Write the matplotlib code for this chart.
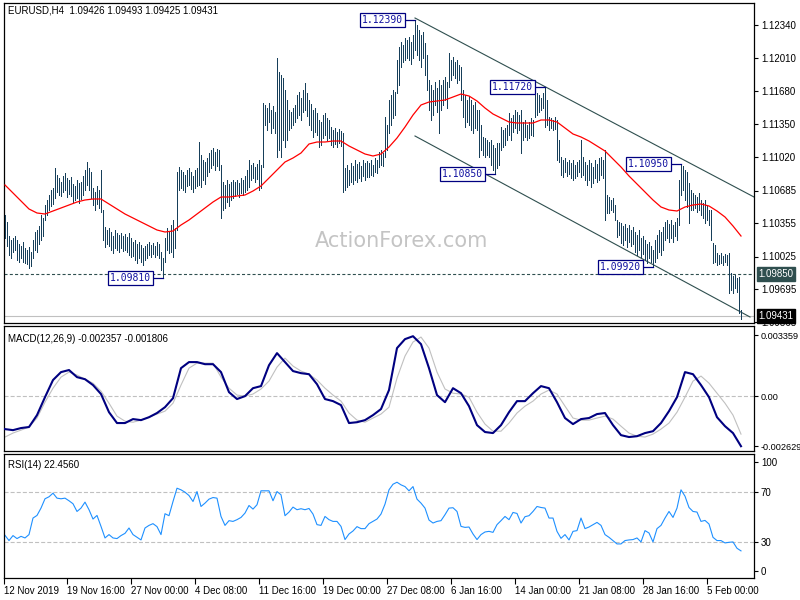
import matplotlib
matplotlib.use('Agg')
import matplotlib.pyplot as plt
import matplotlib.transforms as mtransforms
import numpy as np

plt.rcParams['font.family'] = ['Liberation Sans', 'DejaVu Sans']
plt.rcParams['lines.scale_dashes'] = False

# ---- data (EURUSD H4) ----
highs = [
    1.1044, 1.1037, 1.1023, 1.1019, 1.1021, 1.1023, 1.1019, 1.1015, 1.1013, 1.1017,
    1.1011, 1.1009, 1.1012, 1.1007, 1.1019, 1.1027, 1.1029, 1.1033, 1.1044, 1.1041,
    1.1054, 1.1059, 1.1064, 1.1069, 1.1071, 1.1091, 1.1084, 1.1081, 1.1077, 1.1083,
    1.1086, 1.1081, 1.1079, 1.1082, 1.1075, 1.1073, 1.1079, 1.1076, 1.1077, 1.1083,
    1.1089, 1.1097, 1.1091, 1.1087, 1.1071, 1.1067, 1.1073, 1.1069, 1.1089, 1.1049,
    1.1032, 1.1029, 1.1031, 1.1027, 1.1023, 1.1029, 1.1026, 1.1024, 1.1026, 1.1023,
    1.1025, 1.1022, 1.1026, 1.1021, 1.1017, 1.1019, 1.1015, 1.1017, 1.1014, 1.1011,
    1.1013, 1.1015, 1.1017, 1.1014, 1.1016, 1.1013, 1.1017, 1.1015, 1.1007, 1.1001,
    1.1021, 1.1031, 1.1027, 1.1034, 1.1039, 1.1031, 1.1087, 1.1092, 1.1089, 1.1087,
    1.1084, 1.1089, 1.1091, 1.1087, 1.1083, 1.1089, 1.1091, 1.1117, 1.1104, 1.1099,
    1.1097, 1.1101, 1.1106, 1.1109, 1.1111, 1.1107, 1.1110, 1.1109, 1.1094, 1.1077,
    1.1074, 1.1079, 1.1075, 1.1077, 1.1079, 1.1077, 1.1079, 1.1076, 1.1081, 1.1079,
    1.1083, 1.1089, 1.1099, 1.1094, 1.1096, 1.1092, 1.1095, 1.1099, 1.1094, 1.1156,
    1.1154, 1.1151, 1.1156, 1.1149, 1.1153, 1.1147, 1.1201, 1.1187, 1.1184, 1.1181,
    1.1169, 1.1159, 1.1149, 1.1147, 1.1151, 1.1154, 1.1164, 1.1167, 1.1161, 1.1169,
    1.1176, 1.1166, 1.1159, 1.1155, 1.1149, 1.1151, 1.1146, 1.1139, 1.1137, 1.1144,
    1.1146, 1.1141, 1.1139, 1.1132, 1.1129, 1.1131, 1.1127, 1.1130, 1.1128, 1.1126,
    1.1091, 1.1094, 1.1089, 1.1096, 1.1093, 1.1099, 1.1095, 1.1097, 1.1093, 1.1099,
    1.1096, 1.1098, 1.1096, 1.1099, 1.1094, 1.1101, 1.1099, 1.1107, 1.1109, 1.1106,
    1.1142, 1.1134, 1.1159, 1.1164, 1.1169, 1.1167, 1.1199, 1.1212, 1.1217, 1.1214,
    1.1221, 1.1219, 1.1222, 1.1217, 1.1224, 1.1239, 1.1234, 1.1229, 1.1224, 1.1227,
    1.1216, 1.1204, 1.1179, 1.1174, 1.1169, 1.1177, 1.1171, 1.1179, 1.1174, 1.1179,
    1.1182, 1.1177, 1.1206, 1.1199, 1.1202, 1.1197, 1.1199, 1.1194, 1.1192, 1.1169,
    1.1164, 1.1159, 1.1163, 1.1159, 1.1154, 1.1157, 1.1149, 1.1149, 1.1134, 1.1122,
    1.1121, 1.1119, 1.1117, 1.1119, 1.1114, 1.1111, 1.1116, 1.1116, 1.1132, 1.1129,
    1.1131, 1.1134, 1.1146, 1.1141, 1.1144, 1.1149, 1.1147, 1.1144, 1.1149, 1.1137,
    1.1139, 1.1134, 1.1137, 1.1141, 1.1139, 1.1164, 1.1166, 1.1164, 1.1161, 1.1166,
    1.1172, 1.1159, 1.1142, 1.1141, 1.1139, 1.1142, 1.1139, 1.1119, 1.1102, 1.1099,
    1.1101, 1.1097, 1.1099, 1.1096, 1.1099, 1.1094, 1.1097, 1.1099, 1.1119, 1.1102,
    1.1097, 1.1094, 1.1099, 1.1096, 1.1092, 1.1099, 1.1095, 1.1101, 1.1102, 1.1099,
    1.1109, 1.1064, 1.1062, 1.1059, 1.1061, 1.1054, 1.1039, 1.1037, 1.1036, 1.1033,
    1.1035, 1.1031, 1.1034, 1.1029, 1.1032, 1.1027, 1.1024, 1.1029, 1.1021, 1.1023,
    1.1019, 1.1015, 1.1017, 1.1013, 1.1009, 1.1019, 1.1024, 1.1029, 1.1027, 1.1032,
    1.1037, 1.1039, 1.1035, 1.1039, 1.1034, 1.1037, 1.1041, 1.1079, 1.1095, 1.1093,
    1.1089, 1.1087, 1.1076, 1.1069, 1.1066, 1.1064, 1.1062, 1.1066, 1.1059, 1.1056,
    1.1059, 1.1054, 1.1049, 1.1049, 1.1016, 1.1014, 1.1006, 1.1004, 1.1006, 1.1003,
    1.1005, 1.1004, 1.1006, 1.0986, 1.0983, 1.0984, 1.0981, 1.0982, 1.0949,
]
lows = [
    1.1021, 1.1013, 1.1004, 1.1001, 1.1007, 1.1009, 1.0999, 1.0997, 1.1001, 1.0997,
    1.0996, 1.0995, 1.0991, 1.0993, 1.1001, 1.1009, 1.1007, 1.1015, 1.1019, 1.1023,
    1.1039, 1.1044, 1.1049, 1.1053, 1.1055, 1.1061, 1.1067, 1.1064, 1.1063, 1.1067,
    1.1069, 1.1062, 1.1065, 1.1063, 1.1057, 1.1059, 1.1061, 1.1056, 1.1060, 1.1064,
    1.1069, 1.1074, 1.1069, 1.1061, 1.1054, 1.1049, 1.1055, 1.1051, 1.1047, 1.1019,
    1.1012, 1.1015, 1.1013, 1.1009, 1.1006, 1.1011, 1.1009, 1.1007, 1.1011, 1.1008,
    1.1009, 1.1007, 1.1004, 1.1002, 1.1003, 1.0999, 1.0996, 1.1001, 1.0997, 1.0994,
    1.0999, 1.1001, 1.1004, 1.1002, 1.1005, 1.1002, 1.1004, 1.1001, 1.0989, 1.0981,
    1.0997, 1.1009, 1.1006, 1.1007, 1.1002, 1.1011, 1.1029, 1.1069, 1.1071, 1.1069,
    1.1067, 1.1073, 1.1074, 1.1070, 1.1067, 1.1071, 1.1073, 1.1074, 1.1072, 1.1079,
    1.1075, 1.1083, 1.1087, 1.1091, 1.1094, 1.1089, 1.1093, 1.1089, 1.1041, 1.1049,
    1.1051, 1.1057, 1.1053, 1.1059, 1.1061, 1.1063, 1.1065, 1.1062, 1.1066, 1.1064,
    1.1067, 1.1069, 1.1072, 1.1079, 1.1081, 1.1077, 1.1080, 1.1069, 1.1071, 1.1092,
    1.1134, 1.1129, 1.1137, 1.1126, 1.1131, 1.1126, 1.1102, 1.1109, 1.1102, 1.1119,
    1.1112, 1.1119, 1.1129, 1.1131, 1.1134, 1.1137, 1.1141, 1.1144, 1.1139, 1.1147,
    1.1149, 1.1143, 1.1134, 1.1129, 1.1122, 1.1127, 1.1124, 1.1112, 1.1114, 1.1121,
    1.1124, 1.1119, 1.1121, 1.1114, 1.1112, 1.1115, 1.1112, 1.1116, 1.1113, 1.1067,
    1.1069, 1.1072, 1.1074, 1.1077, 1.1075, 1.1079, 1.1077, 1.1081, 1.1078, 1.1083,
    1.1079, 1.1082, 1.1082, 1.1084, 1.1083, 1.1087, 1.1086, 1.1092, 1.1094, 1.1093,
    1.1102, 1.1109, 1.1126, 1.1134, 1.1141, 1.1144, 1.1166, 1.1174, 1.1192, 1.1197,
    1.1199, 1.1201, 1.1199, 1.1195, 1.1201, 1.1209, 1.1204, 1.1199, 1.1192, 1.1201,
    1.1184, 1.1169, 1.1149, 1.1139, 1.1144, 1.1154, 1.1147, 1.1126, 1.1149, 1.1154,
    1.1159, 1.1151, 1.1172, 1.1179, 1.1184, 1.1181, 1.1176, 1.1179, 1.1159, 1.1142,
    1.1132, 1.1137, 1.1134, 1.1129, 1.1126, 1.1131, 1.1129, 1.1102, 1.1109, 1.1104,
    1.1102, 1.1104, 1.1102, 1.1094, 1.1089, 1.1085, 1.1091, 1.1094, 1.1109, 1.1112,
    1.1114, 1.1119, 1.1124, 1.1119, 1.1127, 1.1131, 1.1126, 1.1129, 1.1106, 1.1119,
    1.1122, 1.1119, 1.1121, 1.1124, 1.1123, 1.1142, 1.1144, 1.1147, 1.1149, 1.1151,
    1.1132, 1.1134, 1.1129, 1.1131, 1.1129, 1.1130, 1.1099, 1.1097, 1.1084, 1.1082,
    1.1087, 1.1083, 1.1085, 1.1081, 1.1079, 1.1081, 1.1083, 1.1087, 1.1082, 1.1084,
    1.1079, 1.1074, 1.1079, 1.1072, 1.1076, 1.1081, 1.1077, 1.1079, 1.1084, 1.1081,
    1.1039, 1.1046, 1.1046, 1.1049, 1.1047, 1.1039, 1.1022, 1.1024, 1.1016, 1.1014,
    1.1019, 1.1012, 1.1017, 1.1013, 1.1015, 1.1007, 1.1004, 1.1009, 1.1002, 1.1005,
    1.0999, 1.0996, 1.1001, 1.0997, 1.0992, 1.0997, 1.1001, 1.1007, 1.1004, 1.1009,
    1.1019, 1.1021, 1.1017, 1.1021, 1.1017, 1.1023, 1.1019, 1.1034, 1.1064, 1.1069,
    1.1059, 1.1052, 1.1036, 1.1049, 1.1049, 1.1051, 1.1047, 1.1049, 1.1044, 1.1041,
    1.1036, 1.1039, 1.1034, 1.1019, 1.0996, 1.0997, 1.0994, 1.0995, 1.0996, 1.0994,
    1.0997, 1.0994, 1.0966, 1.0969, 1.0966, 1.0971, 1.0967, 1.0946, 1.0940,
]

# moving average (red), read every 4th bar
ma = [
    1.1074, 1.1066, 1.1058, 1.1050, 1.1046, 1.1045, 1.1048, 1.1051, 1.1054, 1.1057,
    1.1059, 1.1060, 1.1060, 1.1055, 1.1050, 1.1045, 1.1041, 1.1037, 1.1033, 1.1029,
    1.1027, 1.1028, 1.1034, 1.1039, 1.1045, 1.1051, 1.1057, 1.1062, 1.1062, 1.1063,
    1.1064, 1.1068, 1.1073, 1.1081, 1.1089, 1.1097, 1.1101, 1.1106, 1.1115, 1.1117,
    1.1117, 1.1118, 1.1118, 1.1113, 1.1109, 1.1105, 1.1103, 1.1105, 1.1112, 1.1121,
    1.1132, 1.1144, 1.1154, 1.1157, 1.1158, 1.1159, 1.1162, 1.1165, 1.1163, 1.1158,
    1.1151, 1.1145, 1.1141, 1.1137, 1.1136, 1.1136, 1.1136, 1.1139, 1.1139, 1.1137,
    1.1131, 1.1125, 1.1122, 1.1118, 1.1113, 1.1108, 1.1100, 1.1092, 1.1083, 1.1075,
    1.1067, 1.1059, 1.1052, 1.1049, 1.1048, 1.1052, 1.1054, 1.1055, 1.1053, 1.1048,
    1.1042, 1.1033, 1.1023,
]

# MACD main / signal, read every 4th bar
macd = [
    -0.00158, -0.00163, -0.00153, -0.00148, -0.00091, -0.00005, 0.00077, 0.00115, 0.00125, 0.00091,
    0.00081, 0.00053, 0.00010, -0.00077, -0.00129, -0.00129, -0.00110, -0.00115, -0.00101, -0.00081,
    -0.00053, -0.00010, 0.00134, 0.00163, 0.00163, 0.00153, 0.00153, 0.00115, 0.00019, -0.00014,
    0.00000, 0.00038, 0.00048, 0.00148, 0.00206, 0.00163, 0.00120, 0.00110, 0.00105, 0.00057,
    -0.00014, -0.00024, -0.00043, -0.00129, -0.00125, -0.00115, -0.00091, -0.00062, 0.00029, 0.00230,
    0.00273, 0.00287, 0.00249, 0.00134, 0.00005, -0.00029, 0.00038, 0.00014, -0.00048, -0.00139,
    -0.00172, -0.00177, -0.00139, -0.00077, -0.00024, -0.00024, 0.00014, 0.00048, 0.00038, -0.00029,
    -0.00105, -0.00134, -0.00110, -0.00105, -0.00086, -0.00081, -0.00139, -0.00187, -0.00196, -0.00192,
    -0.00177, -0.00168, -0.00129, -0.00072, -0.00005, 0.00115, 0.00105, 0.00053, -0.00005, -0.00101,
    -0.00144, -0.00177, -0.00240,
]
signal = [
    -0.00196, -0.00177, -0.00163, -0.00148, -0.00105, -0.00029, 0.00038, 0.00091, 0.00115, 0.00101,
    0.00081, 0.00062, 0.00024, -0.00034, -0.00096, -0.00120, -0.00125, -0.00115, -0.00101, -0.00086,
    -0.00072, -0.00034, 0.00053, 0.00134, 0.00158, 0.00158, 0.00158, 0.00091, 0.00038, 0.00005,
    0.00000, 0.00010, 0.00034, 0.00072, 0.00139, 0.00182, 0.00144, 0.00120, 0.00105, 0.00077,
    0.00038, 0.00005, -0.00024, -0.00081, -0.00115, -0.00125, -0.00105, -0.00086, -0.00053, 0.00086,
    0.00192, 0.00259, 0.00283, 0.00230, 0.00115, 0.00034, 0.00014, 0.00010, -0.00005, -0.00077,
    -0.00134, -0.00168, -0.00168, -0.00129, -0.00081, -0.00048, -0.00024, 0.00010, 0.00029, 0.00010,
    -0.00048, -0.00105, -0.00115, -0.00115, -0.00105, -0.00096, -0.00110, -0.00144, -0.00177, -0.00192,
    -0.00196, -0.00182, -0.00158, -0.00129, -0.00077, -0.00005, 0.00072, 0.00096, 0.00062, 0.00014,
    -0.00034, -0.00091, -0.00182,
]

# RSI(14), read every 2nd bar
rsi = [
    35.3, 31.1, 35.1, 32.7, 34.5, 33.2, 35.9, 49.2, 51.3, 57.2,
    64.7, 66.3, 69.2, 65.2, 64.7, 65.2, 63.1, 60.7, 54.5, 57.2,
    62.0, 55.9, 48.4, 51.3, 42.5, 33.2, 35.9, 33.2, 32.7, 35.1,
    36.9, 41.2, 35.9, 33.7, 31.6, 41.2, 43.3, 44.7, 42.3, 35.9,
    52.7, 51.1, 62.5, 73.2, 71.9, 70.0, 67.3, 62.5, 70.5, 58.5,
    61.2, 64.4, 65.7, 65.2, 50.5, 43.3, 47.1, 46.5, 47.9, 49.7,
    53.2, 59.3, 56.4, 59.9, 71.1, 71.1, 71.1, 63.1, 70.5, 67.9,
    51.1, 54.0, 58.0, 55.9, 56.7, 55.9, 56.9, 52.4, 43.9, 43.3,
    50.5, 47.9, 46.5, 46.5, 42.5, 31.9, 36.4, 38.8, 42.3, 40.7,
    40.7, 44.7, 46.5, 48.4, 52.4, 60.4, 71.9, 76.4, 78.0, 75.9,
    74.5, 71.1, 74.5, 64.4, 61.2, 57.2, 47.6, 45.2, 46.5, 47.1,
    51.9, 57.2, 57.5, 54.5, 42.5, 41.7, 42.0, 36.4, 31.9, 35.9,
    38.0, 38.5, 37.7, 43.9, 47.1, 50.5, 47.9, 53.7, 52.9, 45.2,
    50.3, 51.1, 54.5, 58.5, 57.7, 57.2, 49.2, 49.2, 38.5, 32.9,
    35.9, 31.6, 38.5, 39.1, 49.2, 40.7, 42.0, 43.9, 45.7, 43.3,
    35.9, 33.7, 31.1, 28.4, 28.4, 31.1, 31.6, 31.9, 33.2, 30.0,
    39.1, 37.2, 30.0, 40.7, 43.3, 49.2, 54.5, 49.7, 57.2, 71.9,
    66.8, 57.7, 54.5, 54.0, 46.5, 47.3, 44.4, 33.7, 31.1, 31.1,
    29.2, 29.7, 30.0, 24.9, 22.8,
]

# swing labels: bar index and price
pivot_bar = [205, 270, 245, 338, 324, 79]
pivot_price = [1.1239, 1.1172, 1.1085, 1.1095, 1.0992, 1.0981]

# channel lines (bar, price) endpoints
chan_upper = [(205, 1.1241), (374.5, 1.1062)]
chan_lower = [(205, 1.1123), (372.5, 1.0942)]

support = 1.0985
last_price = 1.09431

price_ticks = [1.12340, 1.12010, 1.11680, 1.11350, 1.11020, 1.10685, 1.10355, 1.10025, 1.09695, 1.09365]
date_pos = [-0.5, 31, 63, 95, 127, 159, 191, 223, 255, 287, 319, 351]
date_labels = ['12 Nov 2019', '19 Nov 16:00', '27 Nov 00:00', '4 Dec 08:00', '11 Dec 16:00',
               '19 Dec 00:00', '27 Dec 08:00', '6 Jan 16:00', '14 Jan 00:00', '21 Jan 08:00',
               '28 Jan 16:00', '5 Feb 00:00']

bar_col = '#173f5a'
navy = '#000080'
slate = '#2f4f4f'
grey = '#c0c0c0'

fig = plt.figure(figsize=(8, 6), dpi=100)
W, H = 800., 600.
ax1 = fig.add_axes([4 / W, 1 - 323 / H, 750 / W, 320 / H])
ax2 = fig.add_axes([4 / W, 1 - 451 / H, 750 / W, 125 / H])
ax3 = fig.add_axes([4 / W, 1 - 578 / H, 750 / W, 124 / H])

for ax in (ax1, ax2, ax3):
    ax.set_xlim(-0.5, 374.5)
    ax.yaxis.tick_right()
    ax.tick_params(axis='y', direction='out', length=3, width=0.8, labelsize=7, pad=2, colors='black')
    for s in ax.spines.values():
        s.set_linewidth(0.9)
        s.set_color('black')

# ---- price panel ----
x = np.arange(len(highs))
ax1.vlines(x, lows, highs, colors=bar_col, linewidth=0.5, antialiased=False, zorder=3)
ax1.plot(np.arange(len(ma)) * 4, ma, color='red', lw=0.9, zorder=4)
ax1.axhline(support, color=slate, lw=0.8, ls=(0, (2.2, 1.6)), zorder=2)
ax1.axhline(last_price, color=grey, lw=0.8, zorder=1)
for ch in (chan_upper, chan_lower):
    ax1.plot([ch[0][0], ch[1][0]], [ch[0][1], ch[1][1]], color=slate, lw=0.8, zorder=2)

for b, p in zip(pivot_bar, pivot_price):
    ax1.plot([b - 5.5, b], [p, p], color=navy, lw=0.9, zorder=5)
    ax1.text(b - 6, p, f'{p:.5f}', ha='right', va='center', fontsize=7,
             family='DejaVu Sans Mono', color='#1010a0', zorder=6,
             bbox=dict(boxstyle='square,pad=0.18', fc='white', ec=navy, lw=0.9))

ax1.set_ylim(1.0936, 1.1256)
ax1.set_yticks(price_ticks)
ax1.set_yticklabels([f'{v:.5f}' for v in price_ticks])
ax1.set_xticks([])

tr = mtransforms.blended_transform_factory(ax1.transAxes, ax1.transData)
ax1.text(1.006, support, f'{support:.5f}', transform=tr, ha='left', va='center', fontsize=7,
         color='white', zorder=10, clip_on=False,
         bbox=dict(boxstyle='square,pad=0.2', fc=slate, ec=slate))
ax1.text(1.006, last_price, f'{last_price:.5f}', transform=tr, ha='left', va='center', fontsize=7,
         color='white', zorder=10, clip_on=False,
         bbox=dict(boxstyle='square,pad=0.2', fc='black', ec='black'))

ax1.text(0.53, 0.255, 'ActionForex.com', transform=ax1.transAxes, ha='center', va='center',
         fontsize=15, family='DejaVu Sans', color='#c4c4c4', zorder=0)
ax1.text(0.005, 0.978, 'EURUSD,H4  1.09426 1.09493 1.09425 1.09431', transform=ax1.transAxes,
         ha='left', va='center', fontsize=7, color='black')

# ---- MACD panel ----
xs4 = np.arange(len(macd)) * 4
ax2.axhline(0, color=grey, lw=0.8, ls=(0, (2.9, 1.5)), zorder=1)
ax2.plot(np.arange(len(signal)) * 4, signal, color=grey, lw=0.8, zorder=2)
ax2.plot(xs4, macd, color=navy, lw=1.5, zorder=3)
ax2.set_ylim(-0.002629, 0.003359)
ax2.set_yticks([0.00292, 0.0, -0.0024])
ax2.set_yticklabels(['0.003359', '0.00', '-0.002629'])
ax2.tick_params(axis='y', labelsize=6.6, pad=1.5)
ax2.set_xticks([])
ax2.text(0.005, 0.9, 'MACD(12,26,9) -0.002357 -0.001806', transform=ax2.transAxes,
         ha='left', va='center', fontsize=7, color='black')

# ---- RSI panel ----
ax3.axhline(70, color=grey, lw=0.8, ls=(0, (2.9, 1.5)), zorder=1)
ax3.axhline(30, color=grey, lw=0.8, ls=(0, (2.9, 1.5)), zorder=1)
ax3.plot(np.arange(len(rsi)) * 2, rsi, color='#1e90ff', lw=0.8, zorder=2)
ax3.set_ylim(1.0, 100.7)
ax3.set_yticks([94.3, 70, 30, 6.3])
ax3.set_yticklabels(['100', '70', '30', '0'])
ax3.text(0.005, 0.91, 'RSI(14) 22.4560', transform=ax3.transAxes,
         ha='left', va='center', fontsize=7, color='black')
ax3.set_xticks(date_pos)
ax3.set_xticklabels(date_labels)
ax3.tick_params(axis='x', direction='out', length=4, width=0.8, labelsize=7, pad=2)
for lab in ax3.get_xticklabels():
    lab.set_ha('left')

fig.savefig('out.png', dpi=100)
